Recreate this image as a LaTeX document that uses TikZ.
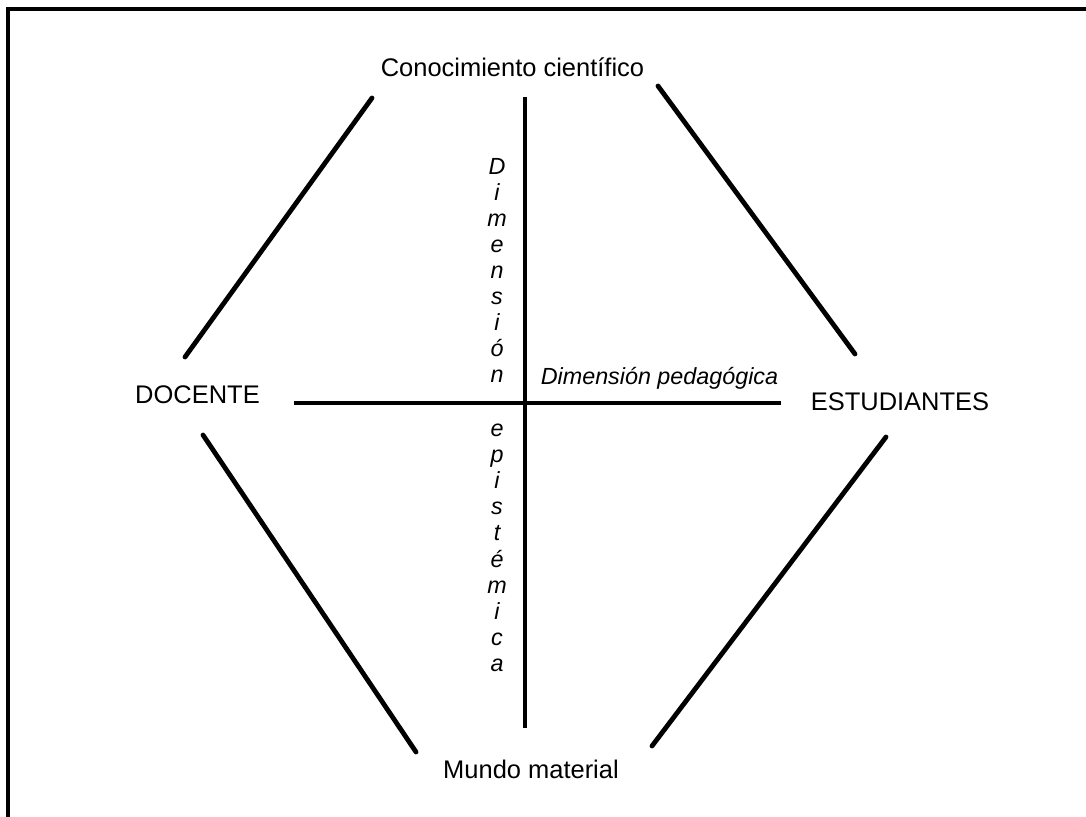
\documentclass[tikz,border=0pt]{standalone}
\usepackage{fontspec}
\setmainfont{Liberation Sans}
\begin{document}
\begin{tikzpicture}[x=0.75pt,y=-0.75pt,
  label/.style={inner sep=0pt,anchor=base,font=\fontsize{19.1}{23}\selectfont},
  dimlabel/.style={inner sep=0pt,anchor=base,font=\fontsize{17.5}{21}\selectfont\itshape},
  side/.style={line width=3.6pt,line cap=round},
  axis/.style={line width=2.4pt}]
  % page area and outer frame
  \clip (0,0) rectangle (1086,817);
  \draw[line width=2.3pt] (8,9) rectangle (1120,850);

  % corner labels
  \node[label] (con) at (512.5,77) {Conocimiento científico};
  \node[label] (doc) at (197.5,403) {DOCENTE};
  \node[label] (est) at (900,410) {ESTUDIANTES};
  \node[label] (mun) at (531,778) {Mundo material};

  % end points of the sides of the hexagon
  \coordinate (tl1) at (372,98);  \coordinate (tl2) at (185,357);
  \coordinate (tr1) at (658,86);  \coordinate (tr2) at (855,354);
  \coordinate (bl1) at (203,435); \coordinate (bl2) at (416,752);
  \coordinate (br1) at (886,437); \coordinate (br2) at (652,746);
  \draw[side] (tl1) -- (tl2);
  \draw[side] (tr1) -- (tr2);
  \draw[side] (bl1) -- (bl2);
  \draw[side] (br1) -- (br2);

  % the two axes
  \coordinate (vt) at (525,97);  \coordinate (vb) at (525,728);
  \coordinate (hl) at (294,403); \coordinate (hr) at (781,403);
  \draw[axis] (vt) -- (vb);
  \draw[axis] (hl) -- (hr);

  % axis labels
  \node[dimlabel] (ped) at (659.5,384) {Dimensión pedagógica};
  \foreach \ch [count=\k from 0] in {D,i,m,e,n,s,i,ó,n}
    \node[dimlabel] (up\k) at ({497},{174+26.1*\k}) {\ch};
  \foreach \ch [count=\k from 0] in {e,p,i,s,t,é,m,i,c,a}
    \node[dimlabel] (lo\k) at ({497},{436+26.2*\k}) {\ch};
\end{tikzpicture}
\end{document}
